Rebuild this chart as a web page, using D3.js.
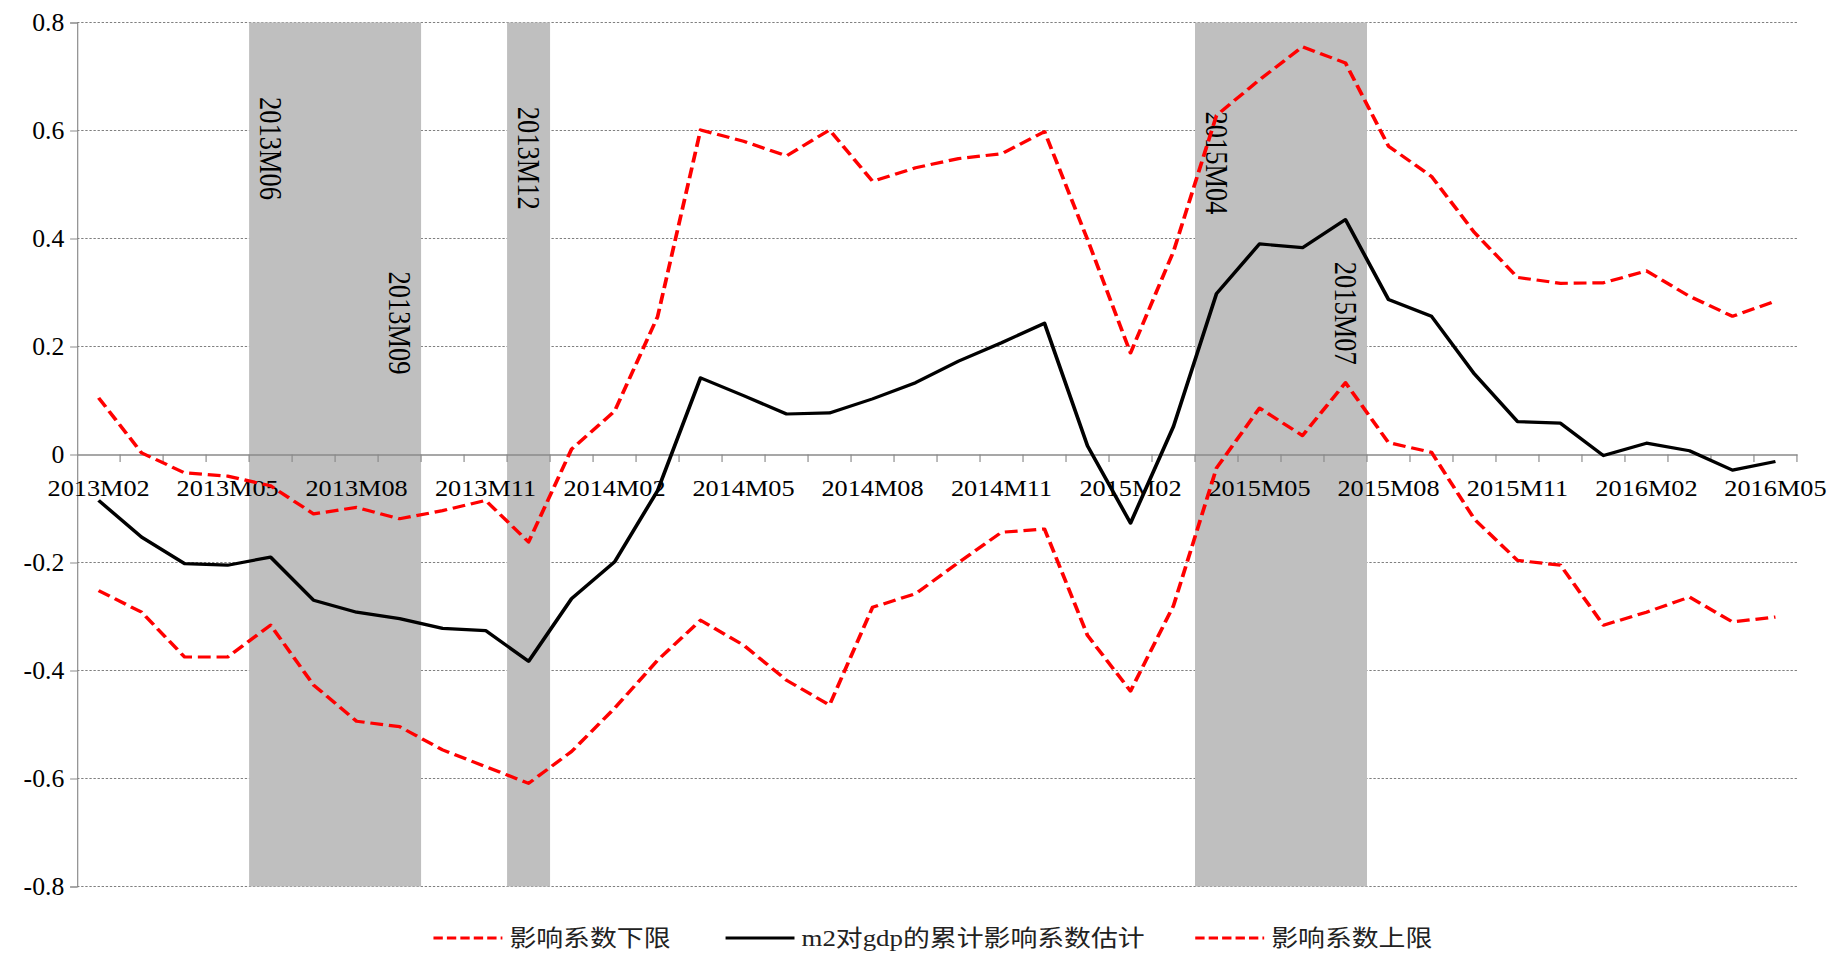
<!DOCTYPE html>
<html>
<head>
<meta charset="utf-8">
<script src="https://cdn.jsdelivr.net/npm/d3@7/dist/d3.min.js"></script>
<style>
  html, body { margin: 0; padding: 0; background: #ffffff; }
  svg { display: block; }
</style>
</head>
<body>
<div id="chart"></div>
<script>
// Monthly periods on the category axis
const periods = [
  "2013M02","2013M03","2013M04","2013M05","2013M06","2013M07","2013M08","2013M09","2013M10","2013M11","2013M12",
  "2014M01","2014M02","2014M03","2014M04","2014M05","2014M06","2014M07","2014M08","2014M09","2014M10","2014M11","2014M12",
  "2015M01","2015M02","2015M03","2015M04","2015M05","2015M06","2015M07","2015M08","2015M09","2015M10","2015M11","2015M12",
  "2016M01","2016M02","2016M03","2016M04","2016M05"
];

// Labelled periods on the x axis
const xTickLabels = ["2013M02","2013M05","2013M08","2013M11","2014M02","2014M05","2014M08",
                     "2014M11","2015M02","2015M05","2015M08","2015M11","2016M02","2016M05"];

// Y axis ticks
const yTicks = [0.8, 0.6, 0.4, 0.2, 0, -0.2, -0.4, -0.6, -0.8];

// 影响系数下限 (lower bound)
const lowerBound = [-0.252, -0.292, -0.375, -0.375, -0.316, -0.427, -0.494, -0.504, -0.547, -0.578, -0.609,
                    -0.550, -0.470, -0.381, -0.307, -0.353, -0.418, -0.464, -0.283, -0.258, -0.200, -0.144, -0.138,
                    -0.335, -0.438, -0.280, -0.025, 0.086, 0.035, 0.133, 0.022, 0.004, -0.120, -0.196, -0.205,
                    -0.316, -0.292, -0.264, -0.310, -0.301];

// m2对gdp的累计影响系数估计 (cumulative estimate)
const estimate = [-0.085, -0.153, -0.202, -0.205, -0.190, -0.270, -0.292, -0.304, -0.322, -0.326, -0.383,
                  -0.267, -0.199, -0.067, 0.142, 0.109, 0.075, 0.077, 0.103, 0.133, 0.173, 0.207, 0.243,
                  0.016, -0.127, 0.052, 0.298, 0.390, 0.383, 0.435, 0.287, 0.256, 0.149, 0.061, 0.058,
                  -0.002, 0.021, 0.007, -0.029, -0.013];

// 影响系数上限 (upper bound)
const upperBound = [0.105, 0.003, -0.034, -0.040, -0.058, -0.110, -0.098, -0.119, -0.104, -0.085, -0.162,
                    0.010, 0.080, 0.255, 0.601, 0.580, 0.553, 0.601, 0.506, 0.531, 0.548, 0.557, 0.598,
                    0.398, 0.188, 0.376, 0.628, 0.694, 0.755, 0.725, 0.571, 0.515, 0.411, 0.328, 0.317,
                    0.318, 0.340, 0.293, 0.256, 0.284];

// Shaded period spans (first and last month of each)
const shadeStart = ["2013M06", "2013M12", "2015M04"];
const shadeEnd   = ["2013M09", "2013M12", "2015M07"];

// Vertical period annotations and the value at which each label begins
const noteMonths = ["2013M06", "2013M09", "2013M12", "2015M04", "2015M07"];
const noteLevels = [0.662, 0.339, 0.644, 0.635, 0.357];

// Legend entries
const legendNames = ["影响系数下限", "m2对gdp的累计影响系数估计", "影响系数上限"];

// ---- drawing ----
const W = 1832, H = 954;
const VW = 1568;               // drawing units, stretched horizontally to the page width
const plot = { left: 66, right: 1538, top: 22.5, bottom: 886.5 };

const svg = d3.select("#chart").append("svg")
  .attr("width", W).attr("height", H)
  .attr("viewBox", `0 0 ${VW} ${H}`)
  .attr("preserveAspectRatio", "none");

const x = d3.scaleBand().domain(periods).range([plot.left, plot.right]).padding(0);
const y = d3.scaleLinear().domain([-0.8, 0.8]).range([plot.bottom, plot.top]);
const cx = d => x(d) + x.bandwidth() / 2;

const serif = "'Liberation Serif', 'Times New Roman', serif";
const cjk = "'Liberation Serif', 'Noto Sans CJK SC', sans-serif";

// horizontal gridlines (dashed)
svg.append("g")
  .selectAll("line")
  .data(yTicks.filter(v => v !== 0))
  .join("line")
  .attr("x1", plot.left).attr("x2", plot.right)
  .attr("y1", d => y(d)).attr("y2", d => y(d))
  .attr("stroke", "#808080").attr("stroke-width", 1)
  .attr("stroke-dasharray", "2,1.5");

// shaded periods
svg.append("g")
  .selectAll("rect")
  .data(shadeStart.map((s, i) => [s, shadeEnd[i]]))
  .join("rect")
  .attr("x", d => x(d[0]))
  .attr("width", d => x(d[1]) + x.bandwidth() - x(d[0]))
  .attr("y", y(0.8))
  .attr("height", y(-0.8) - y(0.8))
  .attr("fill", "#bfbfbf");

// y axis
const yAxis = d3.axisLeft(y).tickValues(yTicks).tickSize(6).tickPadding(0)
  .tickFormat(d => d === 0 ? "0" : d3.format(".1f")(d).replace("−", "-"));
const gy = svg.append("g").attr("transform", `translate(${plot.left},0)`).call(yAxis)
  .attr("font-family", serif);
gy.select(".domain").attr("stroke", "#8a8a8a").attr("stroke-width", 1);
gy.selectAll(".tick line").attr("stroke", "#8a8a8a");
gy.selectAll(".tick text")
  .attr("x", null)
  .attr("transform", "translate(-11,0) scale(0.88,1)")
  .style("font-family", serif).attr("font-size", 25).attr("fill", "#000");

// category axis on the zero line
const xAxis = d3.axisBottom(x).tickValues([]).tickSizeOuter(0);
const gx = svg.append("g").attr("transform", `translate(0,${y(0)})`).call(xAxis);
gx.select(".domain").attr("stroke", "#8a8a8a").attr("stroke-width", 1.6);
// tick marks at every month boundary
gx.append("g").selectAll("line")
  .data(periods.slice(1).concat(["__end"]))
  .join("line")
  .attr("x1", d => d === "__end" ? plot.right : x(d))
  .attr("x2", d => d === "__end" ? plot.right : x(d))
  .attr("y1", 0).attr("y2", 7.5)
  .attr("stroke", "#8a8a8a").attr("stroke-width", 1);
// labels every third month
gx.append("g").selectAll("text")
  .data(xTickLabels)
  .join("text")
  .attr("x", d => cx(d))
  .attr("y", 42)
  .attr("text-anchor", "middle")
  .style("font-family", serif).attr("font-size", 22.5).attr("fill", "#000")
  .text(d => d);

// vertical annotations inside the shaded periods
svg.append("g")
  .selectAll("text")
  .data(noteMonths.map((m, i) => ({ m, v: noteLevels[i] })))
  .join("text")
  .attr("transform", d => `translate(${cx(d.m)},${y(d.v)}) rotate(90)`)
  .attr("dy", "0.34em")
  .attr("text-anchor", "start")
  .style("font-family", serif).attr("font-size", 26.5).attr("fill", "#000")
  .text(d => d.m);

// series
const line = d3.line().x((d, i) => cx(periods[i])).y(d => y(d));
const series = [
  { name: legendNames[0], values: lowerBound, color: "#ff0000", dash: "11,5" },
  { name: legendNames[1], values: estimate,   color: "#000000", dash: null },
  { name: legendNames[2], values: upperBound, color: "#ff0000", dash: "11,5" }
];
svg.append("g")
  .selectAll("path")
  .data(series)
  .join("path")
  .attr("d", d => line(d.values))
  .attr("fill", "none")
  .attr("stroke", d => d.color)
  .attr("stroke-width", 3.2)
  .attr("stroke-linejoin", "round")
  .attr("stroke-dasharray", d => d.dash);

// legend
const legendX = [371, 621, 1023];
const legendY = 938;
const lg = svg.append("g").selectAll("g")
  .data(series)
  .join("g")
  .attr("transform", (d, i) => `translate(${legendX[i]},${legendY})`);
lg.append("line")
  .attr("x1", 0).attr("x2", 59).attr("y1", 0).attr("y2", 0)
  .attr("stroke", d => d.color).attr("stroke-width", 3.2)
  .attr("stroke-dasharray", d => d.dash ? "8,3.5" : null);
lg.append("text")
  .attr("x", 65).attr("y", 0).attr("dy", "0.36em")
  .style("font-family", cjk).attr("font-size", 23).attr("fill", "#222")
  .text(d => d.name);
</script>
</body>
</html>
